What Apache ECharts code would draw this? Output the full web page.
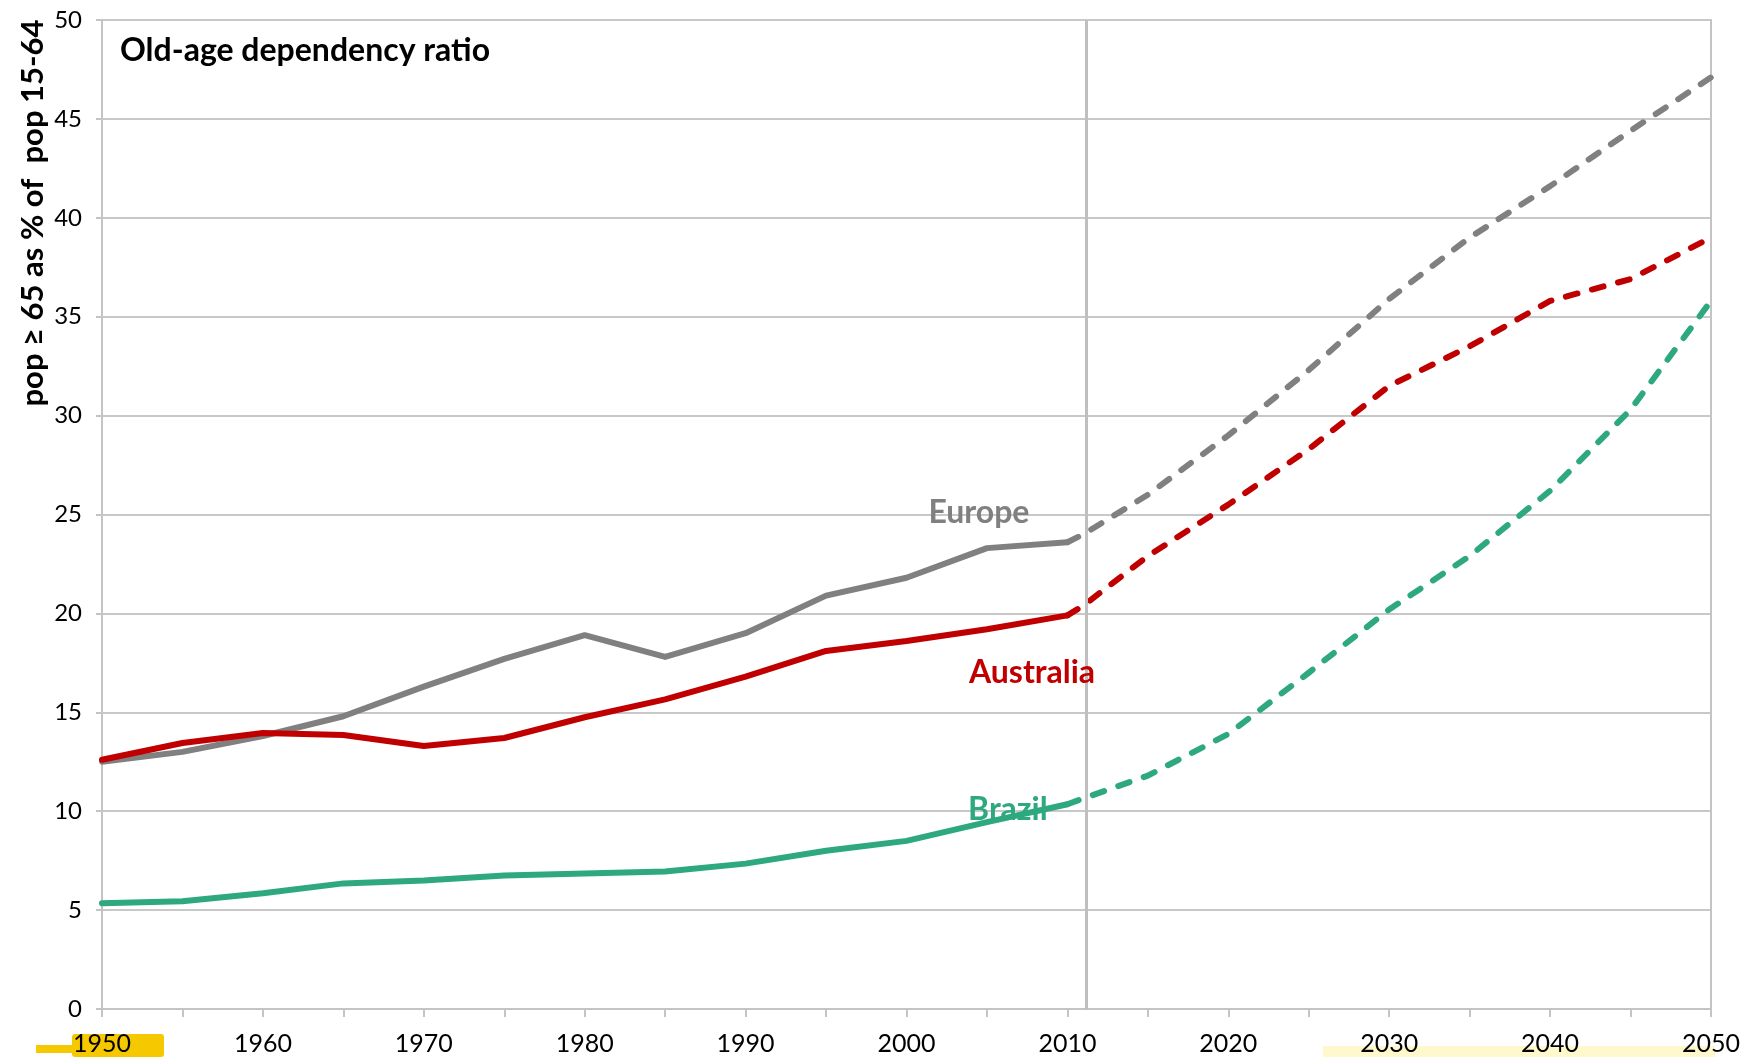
<!DOCTYPE html>
<html>
<head>
<meta charset="utf-8">
<script src="https://cdn.jsdelivr.net/npm/echarts@6/dist/echarts.min.js"></script>
<style>
  html, body { margin: 0; padding: 0; background: #fff; }
  #chart { width: 1744px; height: 1057px; }
</style>
</head>
<body>
<div id="chart"></div>
<script>
// observed (solid) and projected (dashed) years
const histYears = [1950, 1955, 1960, 1965, 1970, 1975, 1980, 1985, 1990, 1995, 2000, 2005, 2010]
const projYears = [2010, 2011, 2015, 2020, 2025, 2030, 2035, 2040, 2045, 2050]

const europeHist = [12.5, 13.0, 13.8, 14.8, 16.3, 17.7, 18.9, 17.8, 19.0, 20.9, 21.8, 23.3, 23.6]
const europeProj = [23.6, 24.0, 26.0, 29.0, 32.3, 35.9, 39.0, 41.6, 44.4, 47.1]

const australiaHist = [12.6, 13.45, 13.95, 13.85, 13.3, 13.7, 14.75, 15.65, 16.8, 18.1, 18.6, 19.2, 19.9]
const australiaProj = [19.9, 20.4, 22.9, 25.5, 28.3, 31.5, 33.5, 35.8, 36.9, 39.0]

const brazilHist = [5.35, 5.45, 5.85, 6.35, 6.5, 6.75, 6.85, 6.95, 7.35, 8.0, 8.5, 9.45, 10.35]
const brazilProj = [10.35, 10.65, 11.8, 13.9, 17.0, 20.2, 22.9, 26.2, 30.3, 35.8]

const colors = { Europe: '#808080', Australia: '#c00000', Brazil: '#2ea87e' }
// where each name label sits, in data units [year, value]
const labelAt = { Europe: [2004.5, 25.1], Australia: [2007.8, 17.0], Brazil: [2006.3, 10.1] }

const nowYear = 2011.2
const FONT = 'Lato, "Open Sans", sans-serif'

const zip = (xs, ys) => xs.map((x, i) => [x, ys[i]])

const chart = echarts.init(document.getElementById('chart'))

const makeSeries = (name, hist, proj) => [
  {
    name: name,
    type: 'line',
    data: zip(histYears, hist),
    showSymbol: false,
    lineStyle: { color: colors[name], width: 6, cap: 'round', join: 'round' },
    z: 3,
    markPoint: {
      symbol: 'circle',
      symbolSize: 0,
      data: [{ coord: labelAt[name], value: name }],
      label: {
        show: true,
        position: 'inside',
        formatter: name,
        color: colors[name],
        fontFamily: FONT,
        fontWeight: 'bold',
        fontSize: 32
      }
    }
  },
  {
    name: name + ' proj',
    type: 'line',
    data: zip(projYears, proj),
    showSymbol: false,
    lineStyle: { color: colors[name], width: 6, type: [12, 15], cap: 'round', join: 'round' },
    z: 3
  }
]

const series = [
  ...makeSeries('Europe', europeHist, europeProj),
  ...makeSeries('Australia', australiaHist, australiaProj),
  ...makeSeries('Brazil', brazilHist, brazilProj)
]

// vertical marker at the start of the projections
series[0].markLine = {
  silent: true,
  symbol: 'none',
  label: { show: false },
  lineStyle: { color: '#bfbfbf', width: 3, type: 'solid' },
  data: [{ xAxis: nowYear }]
}

const option = {
  animation: false,
  backgroundColor: '#fff',
  grid: {
    left: 102, right: 33, top: 20, bottom: 48,
    show: true, borderColor: '#c4c4c4', borderWidth: 2
  },
  xAxis: {
    type: 'value',
    min: 1950, max: 2050, interval: 5,
    splitLine: { show: false },
    axisLine: { lineStyle: { color: '#c4c4c4', width: 2 } },
    axisTick: { show: true, length: 8, lineStyle: { color: '#c4c4c4', width: 2 } },
    axisLabel: {
      margin: 22,
      color: '#000',
      fontFamily: FONT,
      fontSize: 25,
      formatter: v => (v % 10 === 0 ? String(v) : '')
    }
  },
  yAxis: {
    type: 'value',
    min: 0, max: 50, interval: 5,
    splitLine: { lineStyle: { color: '#c8c8c8', width: 2 } },
    axisLine: { show: true, lineStyle: { color: '#c4c4c4', width: 2 } },
    axisTick: { show: true, length: 6, lineStyle: { color: '#c4c4c4', width: 2 } },
    axisLabel: { margin: 20, color: '#000', fontFamily: FONT, fontSize: 24 }
  },
  graphic: [
    {
      type: 'text',
      left: 120, top: 35,
      style: { text: 'Old-age dependency ratio', fill: '#000', font: 'bold 32px ' + FONT }
    },
    {
      type: 'text',
      x: 33, y: 213,
      rotation: Math.PI / 2,
      style: {
        text: 'pop \u2265 65 as % of  pop 15-64',
        fill: '#000',
        font: 'bold 31px ' + FONT,
        align: 'center',
        verticalAlign: 'middle'
      }
    },
    {
      type: 'rect',
      shape: { x: 1323, y: 1046, width: 392, height: 11 },
      style: { fill: '#fff8cc' },
      z: -1
    },
    {
      type: 'rect',
      shape: { x: 72, y: 1034, width: 92, height: 23, r: 3 },
      style: { fill: '#f6c800' },
      z: -1
    },
    {
      type: 'rect',
      shape: { x: 36, y: 1045, width: 40, height: 8 },
      style: { fill: '#f6c800' },
      z: -1
    }
  ],
  series: series
}

chart.setOption(option)
</script>
</body>
</html>
